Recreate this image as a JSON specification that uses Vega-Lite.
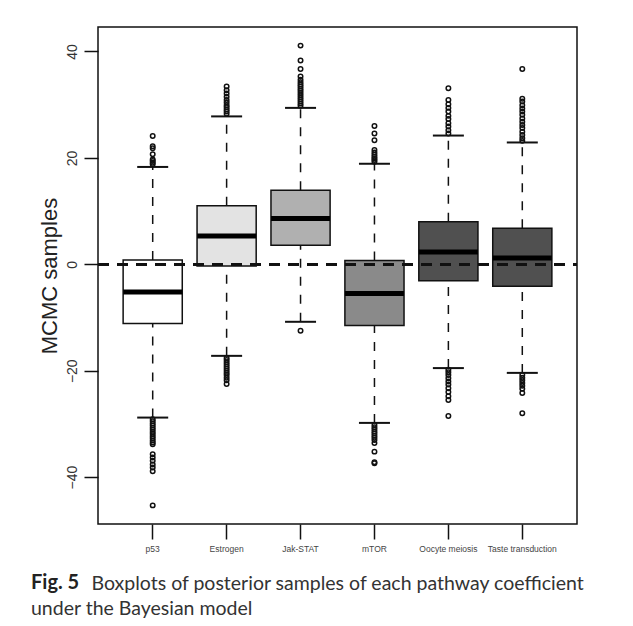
{
  "$schema": "https://vega.github.io/schema/vega-lite/v6.json",
  "width": 479,
  "height": 497,
  "autosize": {"type": "none"},
  "padding": {"left": 98, "top": 27, "right": 56, "bottom": 102},
  "background": "white",
  "config": {
    "view": {"stroke": "#111", "strokeWidth": 1.5},
    "font": "Liberation Sans"
  },
  "title": {
    "text": "Fig. 5",
    "subtitle": "under the Bayesian model",
    "orient": "bottom",
    "anchor": "start",
    "frame": "group",
    "font": "Lato",
    "fontSize": 20,
    "fontWeight": "bold",
    "color": "#222",
    "subtitleFont": "Lato",
    "subtitleFontSize": 19.5,
    "subtitleFontWeight": "normal",
    "subtitleColor": "#333",
    "subtitlePadding": 7,
    "dx": -67,
    "dy": -24,
    "offset": 4
  },
  "datasets": {
    "boxes": [
      {"pathway": "p53", "lower": -28.8, "q1": -11.1, "median": -5.2, "q3": 0.8, "upper": 18.3},
      {"pathway": "Estrogen", "lower": -17.2, "q1": -0.3, "median": 5.3, "q3": 11.0, "upper": 27.8},
      {"pathway": "Jak-STAT", "lower": -10.8, "q1": 3.6, "median": 8.6, "q3": 13.9, "upper": 29.4},
      {"pathway": "mTOR", "lower": -29.8, "q1": -11.5, "median": -5.5, "q3": 0.7, "upper": 18.9},
      {"pathway": "Oocyte meiosis", "lower": -19.5, "q1": -3.1, "median": 2.3, "q3": 8.0, "upper": 24.2},
      {"pathway": "Taste transduction", "lower": -20.4, "q1": -4.1, "median": 1.2, "q3": 6.8, "upper": 22.9}
    ],
    "outliers": [
      {"pathway": "p53", "value": 18.8}, {"pathway": "p53", "value": 19.1}, {"pathway": "p53", "value": 19.4}, {"pathway": "p53", "value": 19.7}, {"pathway": "p53", "value": 20.7}, {"pathway": "p53", "value": 21.8}, {"pathway": "p53", "value": 22.2}, {"pathway": "p53", "value": 24.1},
      {"pathway": "p53", "value": -29.1}, {"pathway": "p53", "value": -29.5}, {"pathway": "p53", "value": -29.9}, {"pathway": "p53", "value": -30.3}, {"pathway": "p53", "value": -30.7}, {"pathway": "p53", "value": -31.1}, {"pathway": "p53", "value": -31.5}, {"pathway": "p53", "value": -31.9}, {"pathway": "p53", "value": -32.3}, {"pathway": "p53", "value": -32.7}, {"pathway": "p53", "value": -33.1}, {"pathway": "p53", "value": -33.5}, {"pathway": "p53", "value": -33.8},
      {"pathway": "p53", "value": -35.7}, {"pathway": "p53", "value": -36.3}, {"pathway": "p53", "value": -36.9}, {"pathway": "p53", "value": -37.6}, {"pathway": "p53", "value": -38.2}, {"pathway": "p53", "value": -38.9}, {"pathway": "p53", "value": -45.3},
      {"pathway": "Estrogen", "value": 28.3}, {"pathway": "Estrogen", "value": 28.7}, {"pathway": "Estrogen", "value": 29.1}, {"pathway": "Estrogen", "value": 29.5}, {"pathway": "Estrogen", "value": 29.9}, {"pathway": "Estrogen", "value": 30.4}, {"pathway": "Estrogen", "value": 30.9}, {"pathway": "Estrogen", "value": 31.5}, {"pathway": "Estrogen", "value": 32.1}, {"pathway": "Estrogen", "value": 32.7}, {"pathway": "Estrogen", "value": 33.4},
      {"pathway": "Estrogen", "value": -17.6}, {"pathway": "Estrogen", "value": -18.0}, {"pathway": "Estrogen", "value": -18.4}, {"pathway": "Estrogen", "value": -18.8}, {"pathway": "Estrogen", "value": -19.2}, {"pathway": "Estrogen", "value": -19.6}, {"pathway": "Estrogen", "value": -20.0}, {"pathway": "Estrogen", "value": -20.4}, {"pathway": "Estrogen", "value": -20.8}, {"pathway": "Estrogen", "value": -21.3}, {"pathway": "Estrogen", "value": -21.8}, {"pathway": "Estrogen", "value": -22.5},
      {"pathway": "Jak-STAT", "value": 29.8}, {"pathway": "Jak-STAT", "value": 30.2}, {"pathway": "Jak-STAT", "value": 30.6}, {"pathway": "Jak-STAT", "value": 31.0}, {"pathway": "Jak-STAT", "value": 31.4}, {"pathway": "Jak-STAT", "value": 31.8}, {"pathway": "Jak-STAT", "value": 32.2}, {"pathway": "Jak-STAT", "value": 32.6}, {"pathway": "Jak-STAT", "value": 33.0}, {"pathway": "Jak-STAT", "value": 33.4}, {"pathway": "Jak-STAT", "value": 33.8}, {"pathway": "Jak-STAT", "value": 34.2}, {"pathway": "Jak-STAT", "value": 34.7}, {"pathway": "Jak-STAT", "value": 35.3}, {"pathway": "Jak-STAT", "value": 36.7}, {"pathway": "Jak-STAT", "value": 38.3}, {"pathway": "Jak-STAT", "value": 41.1},
      {"pathway": "Jak-STAT", "value": -12.5},
      {"pathway": "mTOR", "value": 19.3}, {"pathway": "mTOR", "value": 19.6}, {"pathway": "mTOR", "value": 19.9}, {"pathway": "mTOR", "value": 20.2}, {"pathway": "mTOR", "value": 20.6}, {"pathway": "mTOR", "value": 21.0}, {"pathway": "mTOR", "value": 21.5}, {"pathway": "mTOR", "value": 23.3}, {"pathway": "mTOR", "value": 24.6}, {"pathway": "mTOR", "value": 26.0},
      {"pathway": "mTOR", "value": -30.2}, {"pathway": "mTOR", "value": -30.6}, {"pathway": "mTOR", "value": -31.0}, {"pathway": "mTOR", "value": -31.4}, {"pathway": "mTOR", "value": -31.8}, {"pathway": "mTOR", "value": -32.2}, {"pathway": "mTOR", "value": -32.6}, {"pathway": "mTOR", "value": -33.0}, {"pathway": "mTOR", "value": -33.6}, {"pathway": "mTOR", "value": -35.2}, {"pathway": "mTOR", "value": -37.2}, {"pathway": "mTOR", "value": -37.4},
      {"pathway": "Oocyte meiosis", "value": 24.6}, {"pathway": "Oocyte meiosis", "value": 25.2}, {"pathway": "Oocyte meiosis", "value": 25.9}, {"pathway": "Oocyte meiosis", "value": 26.5}, {"pathway": "Oocyte meiosis", "value": 27.3}, {"pathway": "Oocyte meiosis", "value": 27.9}, {"pathway": "Oocyte meiosis", "value": 28.7}, {"pathway": "Oocyte meiosis", "value": 29.4}, {"pathway": "Oocyte meiosis", "value": 30.1}, {"pathway": "Oocyte meiosis", "value": 30.9}, {"pathway": "Oocyte meiosis", "value": 33.1},
      {"pathway": "Oocyte meiosis", "value": -19.8}, {"pathway": "Oocyte meiosis", "value": -20.3}, {"pathway": "Oocyte meiosis", "value": -20.8}, {"pathway": "Oocyte meiosis", "value": -21.4}, {"pathway": "Oocyte meiosis", "value": -22.0}, {"pathway": "Oocyte meiosis", "value": -22.6}, {"pathway": "Oocyte meiosis", "value": -23.3}, {"pathway": "Oocyte meiosis", "value": -24.0}, {"pathway": "Oocyte meiosis", "value": -24.8}, {"pathway": "Oocyte meiosis", "value": -25.5}, {"pathway": "Oocyte meiosis", "value": -28.5},
      {"pathway": "Taste transduction", "value": 23.2}, {"pathway": "Taste transduction", "value": 23.7}, {"pathway": "Taste transduction", "value": 24.3}, {"pathway": "Taste transduction", "value": 24.9}, {"pathway": "Taste transduction", "value": 25.6}, {"pathway": "Taste transduction", "value": 26.2}, {"pathway": "Taste transduction", "value": 26.8}, {"pathway": "Taste transduction", "value": 27.4}, {"pathway": "Taste transduction", "value": 28.1}, {"pathway": "Taste transduction", "value": 28.7}, {"pathway": "Taste transduction", "value": 29.3}, {"pathway": "Taste transduction", "value": 29.9}, {"pathway": "Taste transduction", "value": 30.6}, {"pathway": "Taste transduction", "value": 31.1}, {"pathway": "Taste transduction", "value": 36.7},
      {"pathway": "Taste transduction", "value": -20.8}, {"pathway": "Taste transduction", "value": -21.3}, {"pathway": "Taste transduction", "value": -21.8}, {"pathway": "Taste transduction", "value": -22.3}, {"pathway": "Taste transduction", "value": -22.8}, {"pathway": "Taste transduction", "value": -23.4}, {"pathway": "Taste transduction", "value": -24.2}, {"pathway": "Taste transduction", "value": -28.0}
    ]
  },
  "encoding": {
    "x": {
      "field": "pathway",
      "type": "nominal",
      "sort": ["p53", "Estrogen", "Jak-STAT", "mTOR", "Oocyte meiosis", "Taste transduction"],
      "scale": {"paddingInner": 0.2, "paddingOuter": 0.34},
      "axis": {
        "labelAngle": 0,
        "labelFontSize": 8.5,
        "labelColor": "#444",
        "labelPadding": 5,
        "tickSize": 15,
        "tickColor": "#111",
        "tickWidth": 1.5,
        "domain": false,
        "title": "Boxplots of posterior samples of each pathway coefficient",
        "titleFont": "Lato",
        "titleFontSize": 19.5,
        "titleFontWeight": "normal",
        "titleColor": "#333",
        "titleAlign": "left",
        "titleBaseline": "alphabetic",
        "titleX": -7,
        "titleY": 65
      }
    }
  },
  "layer": [
    {
      "data": {"name": "boxes"},
      "mark": {"type": "rule", "strokeDash": [9, 9], "strokeWidth": 1.5, "color": "#111"},
      "encoding": {
        "y": {"field": "lower", "type": "quantitative", "scale": {"domain": [-48.8, 44.6], "nice": false, "zero": false},
          "axis": {
            "values": [-40, -20, 0, 20, 40],
            "labelAngle": 270,
            "labelAlign": "center",
            "labelBaseline": "alphabetic",
            "labelFontSize": 14,
            "labelColor": "#333",
            "labelPadding": 8,
            "tickSize": 14,
            "tickColor": "#111",
            "tickWidth": 1.5,
            "domain": false,
            "grid": false,
            "title": "MCMC samples",
            "titleFontSize": 22,
            "titleFontWeight": "normal",
            "titleColor": "#222",
            "titlePadding": 4
          }
        },
        "y2": {"field": "q1"}
      }
    },
    {
      "data": {"name": "boxes"},
      "mark": {"type": "rule", "strokeDash": [9, 9], "strokeWidth": 1.5, "color": "#111"},
      "encoding": {
        "y": {"field": "q3", "type": "quantitative"},
        "y2": {"field": "upper"}
      }
    },
    {
      "data": {"name": "boxes"},
      "mark": {"type": "tick", "size": 31, "thickness": 2, "color": "#111", "opacity": 1},
      "encoding": {"y": {"field": "upper", "type": "quantitative"}}
    },
    {
      "data": {"name": "boxes"},
      "mark": {"type": "tick", "size": 31, "thickness": 2, "color": "#111", "opacity": 1},
      "encoding": {"y": {"field": "lower", "type": "quantitative"}}
    },
    {
      "data": {"name": "boxes"},
      "mark": {"type": "bar", "stroke": "#111", "strokeWidth": 1.5, "opacity": 1},
      "encoding": {
        "y": {"field": "q1", "type": "quantitative"},
        "y2": {"field": "q3"},
        "fill": {
          "field": "pathway",
          "type": "nominal",
          "scale": {
            "domain": ["p53", "Estrogen", "Jak-STAT", "mTOR", "Oocyte meiosis", "Taste transduction"],
            "range": ["#ffffff", "#e3e3e3", "#b0b0b0", "#8a8a8a", "#505050", "#505050"]
          },
          "legend": null
        }
      }
    },
    {
      "data": {"name": "boxes"},
      "mark": {"type": "tick", "size": 59, "thickness": 5, "color": "#000", "opacity": 1},
      "encoding": {"y": {"field": "median", "type": "quantitative"}}
    },
    {
      "data": {"name": "outliers"},
      "mark": {"type": "point", "shape": "circle", "filled": false, "size": 20, "strokeWidth": 1.5, "color": "#111", "opacity": 1},
      "encoding": {"y": {"field": "value", "type": "quantitative"}}
    },
    {
      "data": {"name": "boxes"},
      "mark": {"type": "rule", "strokeDash": [11, 8], "strokeWidth": 2.5, "color": "#111"},
      "encoding": {"y": {"datum": 0, "type": "quantitative"}, "x": {"value": 0}, "x2": {"value": 479}}
    }
  ]
}
